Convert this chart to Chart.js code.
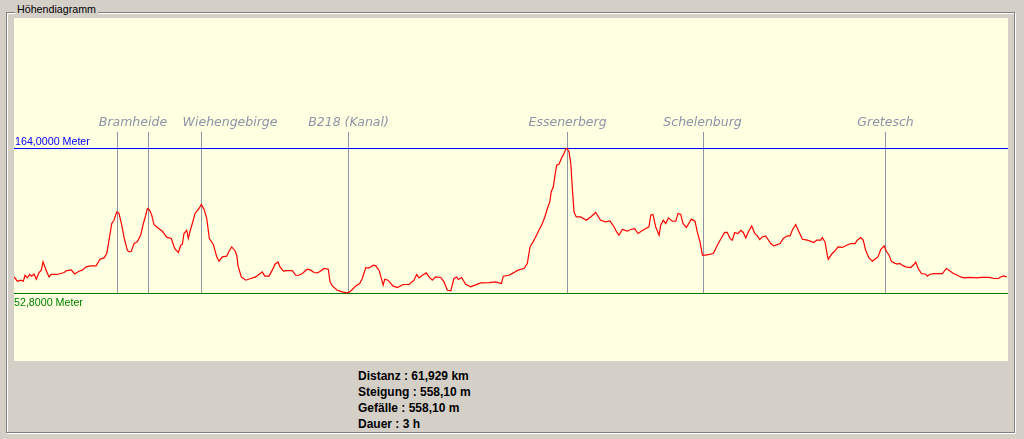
<!DOCTYPE html>
<html>
<head>
<meta charset="utf-8">
<script src="https://cdn.jsdelivr.net/npm/chart.js@4/dist/chart.umd.min.js"></script>
<style>
  html, body { margin:0; padding:0; background:#d4d0c8; width:1024px; height:439px; overflow:hidden; position:relative; font-family:"Liberation Sans", Arial, sans-serif; }
  .etch-w { position:absolute; left:7px; top:13px; width:1007px; height:419px; border:1px solid #ffffff; }
  .etch-g { position:absolute; left:6px; top:12px; width:1007px; height:419px; border:1px solid #808080; }
  .title { position:absolute; left:15px; top:3px; padding:0 2px; background:#d4d0c8; font-size:10.7px; line-height:13px; color:#000; }
  #wrap { position:absolute; left:14px; top:18px; width:994px; height:343px; background:#ffffe1; }
  canvas { display:block; }
  .stats { position:absolute; left:358px; top:368px; font-size:12px; line-height:16px; font-weight:bold; color:#000; }
</style>
</head>
<body>
<div class="etch-w"></div>
<div class="etch-g"></div>
<div class="title">Höhendiagramm</div>
<div id="wrap"><canvas id="c" width="994" height="343"></canvas></div>
<div class="stats">
  <div>Distanz : 61,929 km</div>
  <div>Steigung : 558,10 m</div>
  <div>Gefälle : 558,10 m</div>
  <div>Dauer : 3 h</div>
</div>
<script>
// Distance along the route (km)
const distKm = [
  0.00,0.21,0.42,0.58,0.69,0.83,0.98,1.10,1.25,1.39,1.56,1.70,1.81,1.91,2.04,2.18,2.32,2.70,3.12,3.28,
  3.57,3.78,4.05,4.26,4.47,4.74,5.11,5.36,5.61,5.78,5.94,6.09,6.23,6.40,6.54,6.69,6.85,7.06,7.17,7.31,
  7.48,7.68,7.89,8.06,8.21,8.31,8.45,8.58,8.72,8.97,9.24,9.51,9.80,10.01,10.24,10.39,10.49,10.59,10.76,10.86,
  10.97,11.11,11.28,11.53,11.67,11.84,12.01,12.17,12.42,12.63,12.77,12.98,13.25,13.40,13.56,13.75,13.88,13.96,14.16,14.44,
  14.75,15.06,15.26,15.47,15.62,15.89,16.09,16.26,16.45,16.57,16.78,16.99,17.34,17.55,17.76,17.96,18.27,18.49,18.69,18.90,
  19.11,19.31,19.58,19.69,19.83,20.14,20.45,20.73,20.87,21.08,21.29,21.54,21.70,21.91,22.12,22.39,22.54,22.74,22.95,23.00,
  23.10,23.30,23.61,23.88,24.25,24.61,24.92,25.09,25.23,25.44,25.69,25.86,26.06,26.27,26.59,26.79,27.00,27.21,27.41,27.58,
  27.68,27.89,28.14,28.45,28.72,29.08,29.60,30.01,30.36,30.49,30.84,31.11,31.40,31.78,31.98,32.15,32.40,32.65,32.92,33.07,
  33.23,33.38,33.47,33.60,33.69,33.81,33.96,34.10,34.27,34.37,34.47,34.58,34.69,34.78,34.89,35.03,35.31,35.66,35.93,36.24,
  36.55,36.86,37.13,37.38,37.55,37.69,37.90,38.21,38.42,38.67,38.88,39.08,39.36,39.56,39.67,39.81,39.98,40.19,40.29,40.45,
  40.60,40.77,41.02,41.23,41.37,41.54,41.68,41.89,42.20,42.43,42.57,42.74,42.89,43.10,43.57,43.82,44.07,44.28,44.44,44.61,
  44.75,44.90,45.11,45.28,45.44,45.59,45.75,45.96,46.15,46.31,46.46,46.62,46.83,47.15,47.35,47.73,47.93,48.18,48.35,48.49,
  48.70,48.91,49.12,49.43,49.84,50.01,50.26,50.36,50.53,50.67,50.73,50.98,51.19,51.34,51.61,51.88,52.13,52.40,52.54,52.75,
  52.91,53.06,53.27,53.48,53.69,53.83,54.00,54.21,54.35,54.52,54.66,54.83,55.03,55.18,55.34,55.56,55.87,56.07,56.18,56.32,
  56.53,56.80,56.90,57.07,57.32,57.84,58.09,58.32,58.52,58.77,58.98,59.19,59.50,60.02,60.23,60.75,61.06,61.33,61.47,61.64,
  61.85
];
// Elevation (m)
const elevM = [
  65.5,62.2,63.0,62.2,66.8,64.8,67.4,66.1,67.8,63.8,68.9,70.7,77.0,73.7,69.4,65.5,67.4,67.4,68.9,70.4,
  70.9,67.8,69.9,70.7,73.0,74.0,74.0,79.1,80.1,83.5,95.0,106.5,109.0,115.4,114.2,106.5,96.2,86.0,84.7,85.2,
  91.1,92.4,97.5,106.5,112.9,118.0,116.7,112.9,105.7,103.1,100.6,96.0,95.0,87.3,84.2,89.8,90.4,98.8,101.3,95.0,
  100.6,106.5,114.2,118.0,121.1,117.5,110.3,95.0,90.4,80.9,77.6,80.9,81.4,85.2,88.5,86.0,82.2,74.0,65.5,63.0,
  64.3,65.5,67.4,69.4,66.1,66.1,70.7,75.3,77.0,73.2,69.9,70.4,70.4,66.8,66.8,68.1,71.4,70.7,68.9,68.6,
  70.1,72.0,71.4,61.7,58.6,55.3,54.0,53.3,53.6,55.9,58.6,60.5,64.3,72.4,72.4,74.5,74.0,70.7,61.7,59.2,
  63.8,63.0,58.6,57.4,59.7,59.7,63.0,67.4,64.8,66.8,68.6,65.5,63.0,65.5,65.1,61.7,55.3,54.8,64.3,65.5,
  63.5,65.1,59.9,57.9,59.2,60.9,61.2,61.7,60.5,66.1,66.8,68.6,70.7,72.0,75.8,88.5,93.7,100.0,106.5,111.5,
  118.0,123.0,130.7,134.6,142.2,151.2,152.0,156.3,160.2,163.5,164.0,161.4,152.5,134.6,115.4,111.5,111.5,109.0,111.5,114.9,
  109.0,107.7,108.5,104.0,100.0,97.5,101.9,100.6,101.9,102.6,98.8,100.6,102.6,103.9,112.9,113.4,103.9,97.5,105.2,109.0,
  106.5,110.8,108.2,108.2,114.2,113.4,106.5,103.4,109.8,108.2,100.0,92.4,82.2,82.2,83.5,89.8,95.4,99.6,99.6,95.0,
  93.7,99.6,98.8,101.3,99.6,95.4,100.0,104.6,98.8,97.0,94.2,96.2,97.0,91.1,89.3,91.1,95.0,97.0,97.0,101.3,
  105.7,100.0,94.4,93.7,91.9,93.7,93.7,95.7,92.4,82.2,79.1,83.5,86.0,88.5,88.1,89.8,91.1,91.1,93.7,95.7,
  93.7,86.0,80.1,77.6,79.6,80.9,86.5,89.3,85.2,82.2,77.6,76.3,75.3,75.8,74.5,73.2,72.7,75.0,77.0,72.4,
  68.1,67.6,66.1,67.6,68.1,68.1,72.0,70.1,68.1,66.8,65.5,64.8,65.1,64.8,65.1,65.1,64.3,64.3,65.5,66.3,
  65.5
];
// Waypoint markers (km) and their labels
const markerKm = [6.45, 8.38, 11.68, 20.84, 34.48, 42.96, 54.29];
const labelNames = ["Bramheide", "Wiehengebirge", "B218 (Kanal)", "Essenerberg", "Schelenburg", "Gretesch"];
const labelKm = [7.41, 13.46, 20.84, 34.49, 42.90, 54.30];
// Reference levels (m) and their tick labels
const maxElev = 164.0;
const minElev = 52.8;
const levelLabels = ["164,0000 Meter", "52,8000 Meter"];
const totalKm = 61.929;

const overlay = {
  id: 'overlay',
  beforeDatasetsDraw(chart) {
    const ctx = chart.ctx, xs = chart.scales.x, ys = chart.scales.y;
    const w = chart.width;
    const yMax = Math.round(ys.getPixelForValue(maxElev) - 0.5) + 0.5;
    const yMin = Math.round(ys.getPixelForValue(minElev) - 0.5) + 0.5;
    ctx.save();
    ctx.strokeStyle = '#8c94a6';
    ctx.lineWidth = 1;
    markerKm.forEach(k => {
      const x = Math.round(xs.getPixelForValue(k) - 0.5) + 0.5;
      ctx.beginPath();
      ctx.moveTo(x, 114);
      ctx.lineTo(x, yMin);
      ctx.stroke();
    });
    ctx.strokeStyle = '#0000ff';
    ctx.beginPath(); ctx.moveTo(0, yMax); ctx.lineTo(w, yMax); ctx.stroke();
    ctx.strokeStyle = '#008000';
    ctx.beginPath(); ctx.moveTo(0, yMin); ctx.lineTo(w, yMin); ctx.stroke();
    ctx.font = '10.7px "Liberation Sans", Arial, sans-serif';
    ctx.textAlign = 'left';
    ctx.textBaseline = 'alphabetic';
    ctx.fillStyle = '#0000ff';
    ctx.fillText(levelLabels[0], 1, yMax - 3.5);
    ctx.fillStyle = '#008000';
    ctx.fillText(levelLabels[1], 0, yMin + 12.5);
    ctx.font = 'italic 12.5px "DejaVu Sans", sans-serif';
    ctx.textAlign = 'center';
    ctx.fillStyle = '#8c94a6';
    labelNames.forEach((n, i) => {
      ctx.fillText(n, xs.getPixelForValue(labelKm[i]), 108);
    });
    ctx.restore();
  }
};

const points = distKm.map((d, i) => ({ x: d, y: elevM[i] }));

new Chart(document.getElementById('c'), {
  type: 'line',
  data: {
    datasets: [{
      data: points,
      borderColor: '#ff0000',
      borderWidth: 1.2,
      pointRadius: 0,
      tension: 0,
      fill: false
    }]
  },
  options: {
    responsive: false,
    animation: false,
    devicePixelRatio: 1,
    layout: { padding: 0 },
    plugins: { legend: { display: false }, tooltip: { enabled: false }, title: { display: false } },
    scales: {
      x: { type: 'linear', min: 0, max: totalKm, display: false },
      y: { type: 'linear', min: 1.034, max: 264.078, display: false }
    }
  },
  plugins: [overlay]
});
</script>
</body>
</html>
